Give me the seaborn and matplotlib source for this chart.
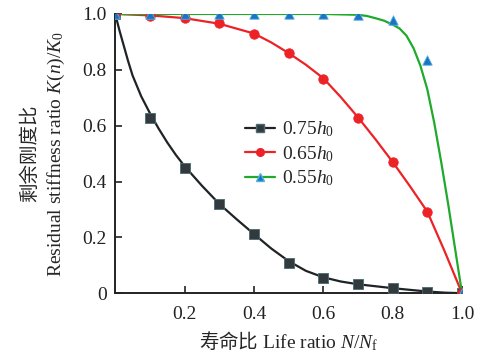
import matplotlib
matplotlib.use('Agg')
import matplotlib.pyplot as plt
from matplotlib.lines import Line2D
import numpy as np
import pandas as pd
import seaborn as sns

# measured points
x_pts = [0, 0.1, 0.2, 0.3, 0.4, 0.5, 0.6, 0.7, 0.8, 0.9, 1.0]
k75 = [1.0, 0.626, 0.45, 0.32, 0.212, 0.107, 0.054, 0.032, 0.018, 0.004, 0.0]
k65 = [1.0, 0.994, 0.984, 0.967, 0.928, 0.859, 0.767, 0.626, 0.469, 0.292, 0.0]
k55 = [1.0, 1.0, 1.0, 1.0, 1.0, 1.0, 1.0, 0.998, 0.979, 0.835, 0.0]

# fitted curves
x75_fit = [0, 0.0125, 0.025, 0.0375, 0.05, 0.075, 0.1, 0.125, 0.15, 0.175, 0.2, 0.25,
           0.3, 0.35, 0.4, 0.45, 0.5, 0.55, 0.6, 0.65, 0.7, 0.75, 0.8, 0.85, 0.9, 0.95, 1.0]
y75_fit = [1.0, 0.94, 0.885, 0.83, 0.78, 0.705, 0.645, 0.59, 0.54, 0.495, 0.455, 0.385,
           0.32, 0.265, 0.212, 0.16, 0.115, 0.08, 0.057, 0.042, 0.032, 0.025, 0.018,
           0.012, 0.006, 0.002, 0.0]
x65_fit = [0, 0.1, 0.2, 0.3, 0.4, 0.45, 0.5, 0.55, 0.6, 0.65, 0.7, 0.75,
           0.8, 0.85, 0.9, 0.95, 1.0]
y65_fit = [1.0, 0.995, 0.985, 0.965, 0.93, 0.898, 0.86, 0.818, 0.77, 0.703, 0.63, 0.552,
           0.47, 0.383, 0.292, 0.15, 0.0]
x55_fit = [0, 0.2, 0.4, 0.6, 0.7, 0.725, 0.75, 0.775, 0.8, 0.82, 0.84, 0.86, 0.88,
           0.9, 0.92, 0.94, 0.96, 0.98, 1.0]
y55_fit = [1.0, 1.0, 1.0, 1.0, 0.997, 0.993, 0.985, 0.976, 0.962, 0.948, 0.922, 0.878,
           0.815, 0.73, 0.61, 0.47, 0.32, 0.16, 0.0]

labels = ['0.75$h_0$', '0.65$h_0$', '0.55$h_0$']
line_colors = ['#1e2326', '#ec2227', '#1faa2c']
mk_colors = ['#333a3e', '#ec2227', '#1a74c4']
mk_edges = ['#4a6a72', '#ec2227', '#55aee0']
markers = ['s', 'o', '^']

sns.set_theme(style='ticks')
plt.rcParams['font.family'] = ['Liberation Serif', 'Noto Sans CJK SC']
plt.rcParams['mathtext.fontset'] = 'custom'
plt.rcParams['mathtext.rm'] = 'Liberation Serif'
plt.rcParams['mathtext.it'] = 'Liberation Serif:italic'
plt.rcParams['mathtext.sf'] = 'Noto Sans CJK SC'

fig = plt.figure(figsize=(4.8, 3.58), dpi=100)
ax = fig.add_axes([0.24, 0.181, 0.7225, 0.78])

fits = [(x75_fit, y75_fit), (x65_fit, y65_fit), (x55_fit, y55_fit)]
pts = [k75, k65, k55]
for i in range(3):
    fx, fy = fits[i]
    sns.lineplot(x=fx, y=fy, ax=ax, color=line_colors[i], lw=1.6, sort=False)
    sns.scatterplot(x=x_pts, y=pts[i], ax=ax, marker=markers[i], s=46,
                    color=mk_colors[i], edgecolor=mk_edges[i], linewidth=0.6, zorder=5)

handles = [Line2D([], [], color=line_colors[i], lw=1.6, marker=markers[i], ms=5.5,
                  markerfacecolor=mk_colors[i], markeredgecolor=mk_edges[i])
           for i in range(3)]
ax.legend(handles, labels, loc='upper left', bbox_to_anchor=(0.325, 0.685), frameon=False,
          fontsize=14, handlelength=1.5, handletextpad=0.4, labelspacing=0.25)

ax.set_xlim(0, 1.0)
ax.set_ylim(0, 1.0)
ax.set_xticks([0.2, 0.4, 0.6, 0.8, 1.0])
ax.set_xticklabels(['0.2', '0.4', '0.6', '0.8', '1.0'])
ax.set_yticks([0, 0.2, 0.4, 0.6, 0.8, 1.0])
ax.set_yticklabels(['0', '0.2', '0.4', '0.6', '0.8', '1.0'])
ax.tick_params(direction='in', length=5, width=1.2, labelsize=14, colors='#222222')
ax.tick_params(axis='x', pad=9)
ax.tick_params(axis='y', pad=6)
for s in ['top', 'right']:
    ax.spines[s].set_visible(False)
for s in ['left', 'bottom']:
    ax.spines[s].set_linewidth(1.4)
    ax.spines[s].set_color('#222222')

ax.set_xlabel('$\\mathsf{寿命比}$ Life ratio $N/N_\\mathrm{f}$', fontsize=14, labelpad=5)
ax.set_ylabel('剩余刚度比\nResidual stiffness ratio $K(n)/K_0$', fontsize=14,
              labelpad=11, linespacing=1.45)

fig.savefig('out.png', dpi=100)
